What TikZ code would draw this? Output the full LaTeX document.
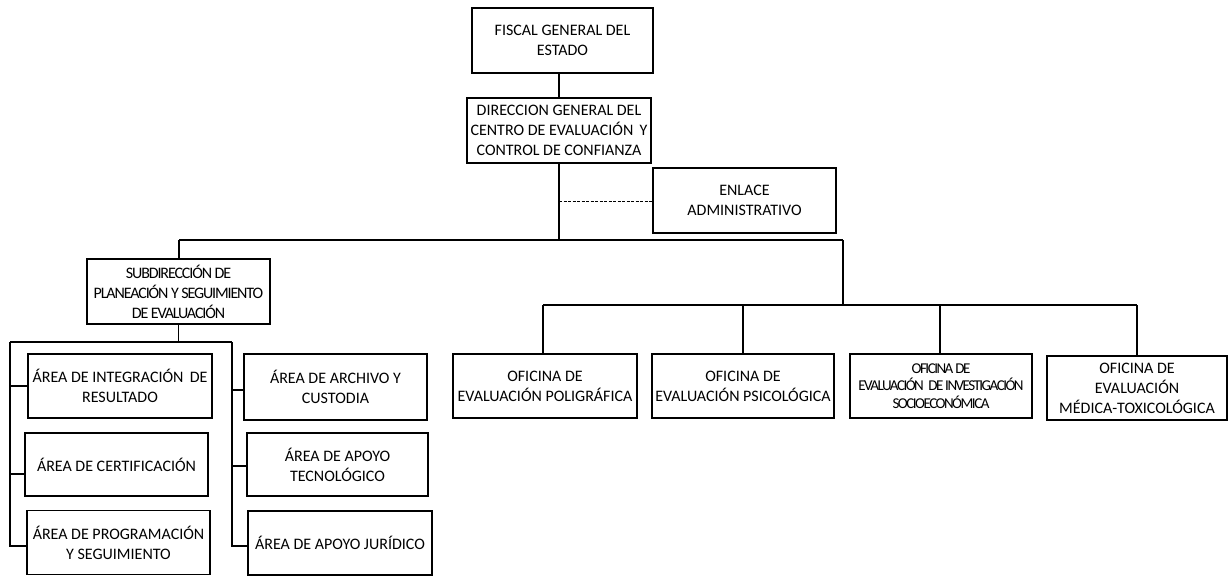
\documentclass[tikz,border=0pt]{standalone}
\usepackage{fontspec}
\setmainfont{Carlito}
\newfontfamily\condfont[LetterSpace=-7]{Carlito}
\newfontfamily\tightfont[LetterSpace=-10]{Carlito}
\begin{document}
\begin{tikzpicture}[x=1pt,y=-1pt,
  box/.style={draw,line width=1.2pt,align=center,inner sep=0pt,
    font=\fontsize{16}{20}\selectfont},
  conn/.style={line width=1.2pt},
  dconn/.style={line width=1pt,dash pattern=on 3pt off 1.5pt}]
\useasboundingbox (0,0) rectangle (1228,576);
\fill[white] (0,0) rectangle (1228,576);
% boxes
\node[box,minimum width=181pt,minimum height=65pt] (fiscal) at (562.5,40.5) {FISCAL GENERAL DEL\\ESTADO};
\node[box,minimum width=184pt,minimum height=65pt] (dir) at (559,130.5) {DIRECCION GENERAL DEL\\CENTRO DE EVALUACIÓN\, Y\\CONTROL DE CONFIANZA};
\node[box,minimum width=183pt,minimum height=65pt] (enlace) at (744.5,200.5) {ENLACE\\ADMINISTRATIVO};
\node[box,minimum width=183pt,minimum height=65pt,font=\condfont\fontsize{16}{20}\selectfont] (sub) at (178.5,291.5) {SUBDIRECCIÓN DE\\PLANEACIÓN Y SEGUIMIENTO\\DE EVALUACIÓN};
\node[box,minimum width=184pt,minimum height=64pt] (l1) at (120,386) {ÁREA DE INTEGRACIÓN\, DE\\RESULTADO};
\node[box,minimum width=183pt,minimum height=63pt] (l2) at (116.5,464.5) {ÁREA DE CERTIFICACIÓN};
\node[box,minimum width=183pt,minimum height=64pt] (l3) at (118.5,542.5) {ÁREA DE PROGRAMACIÓN\\Y SEGUIMIENTO};
\node[box,minimum width=183pt,minimum height=66pt] (r1) at (335.5,387) {ÁREA DE ARCHIVO Y\\CUSTODIA};
\node[box,minimum width=181pt,minimum height=63pt] (r2) at (337.5,464.5) {ÁREA DE APOYO\\TECNOLÓGICO};
\node[box,minimum width=184pt,minimum height=64pt] (r3) at (340,543) {ÁREA DE APOYO JURÍDICO};
\node[box,minimum width=184pt,minimum height=64pt] (o1) at (545,386) {OFICINA DE\\EVALUACIÓN POLIGRÁFICA};
\node[box,minimum width=182pt,minimum height=64pt] (o2) at (743,386) {OFICINA DE\\EVALUACIÓN PSICOLÓGICA};
\node[box,minimum width=182pt,minimum height=64pt,font=\tightfont\fontsize{15}{17.5}\selectfont] (o3) at (941,386) {OFICINA DE\\EVALUACIÓN\, DE INVESTIGACIÓN\\SOCIOECONÓMICA};
\node[box,minimum width=180pt,minimum height=64pt] (o4) at (1137,388) {OFICINA DE\\EVALUACIÓN\\MÉDICA-TOXICOLÓGICA};
% coordinates
\coordinate (hub) at (559,240);
\coordinate (hl) at (179,240);
\coordinate (hr) at (843,240);
\coordinate (hr2) at (843,305);
\coordinate (dash) at (559,201);
\coordinate (sb) at (178.5,342);
\coordinate (lt) at (10,342);
\coordinate (rt) at (232,342);
\coordinate (lb1) at (10,386);
\coordinate (lb2) at (10,474);
\coordinate (lb3) at (10,546);
\coordinate (rb1) at (232,390);
\coordinate (rb2) at (232,466);
\coordinate (rb3) at (232,546);
\coordinate (ob1) at (543,305);
\coordinate (ob2) at (743,305);
\coordinate (ob3) at (940,305);
\coordinate (ob4) at (1137,305);
% connectors
\draw[conn] (dir.north) -- (dir.north |- fiscal.south);
\draw[conn] (dir.south) -- (hub);
\draw[conn] (hl) -- (hr);
\draw[conn] (hl) -- (hl |- sub.north);
\draw[conn] (hr) -- (hr2);
\draw[dconn] (dash) -- (dash -| enlace.west);
\draw[conn] (ob1) -- (ob4);
\draw[conn] (ob1) -- (ob1 |- o1.north);
\draw[conn] (ob2) -- (ob2 |- o2.north);
\draw[conn] (ob3) -- (ob3 |- o3.north);
\draw[conn] (ob4) -- (ob4 |- o4.north);
\draw[conn] (sub.south) -- (sb);
\draw[conn] (lt) -- (rt);
\draw[conn] (lt) -- (lb3) -- (lb3 -| l3.west);
\draw[conn] (lb1) -- (lb1 -| l1.west);
\draw[conn] (lb2) -- (lb2 -| l2.west);
\draw[conn] (rt) -- (rb3) -- (rb3 -| r3.west);
\draw[conn] (rb1) -- (rb1 -| r1.west);
\draw[conn] (rb2) -- (rb2 -| r2.west);
\end{tikzpicture}
\end{document}
